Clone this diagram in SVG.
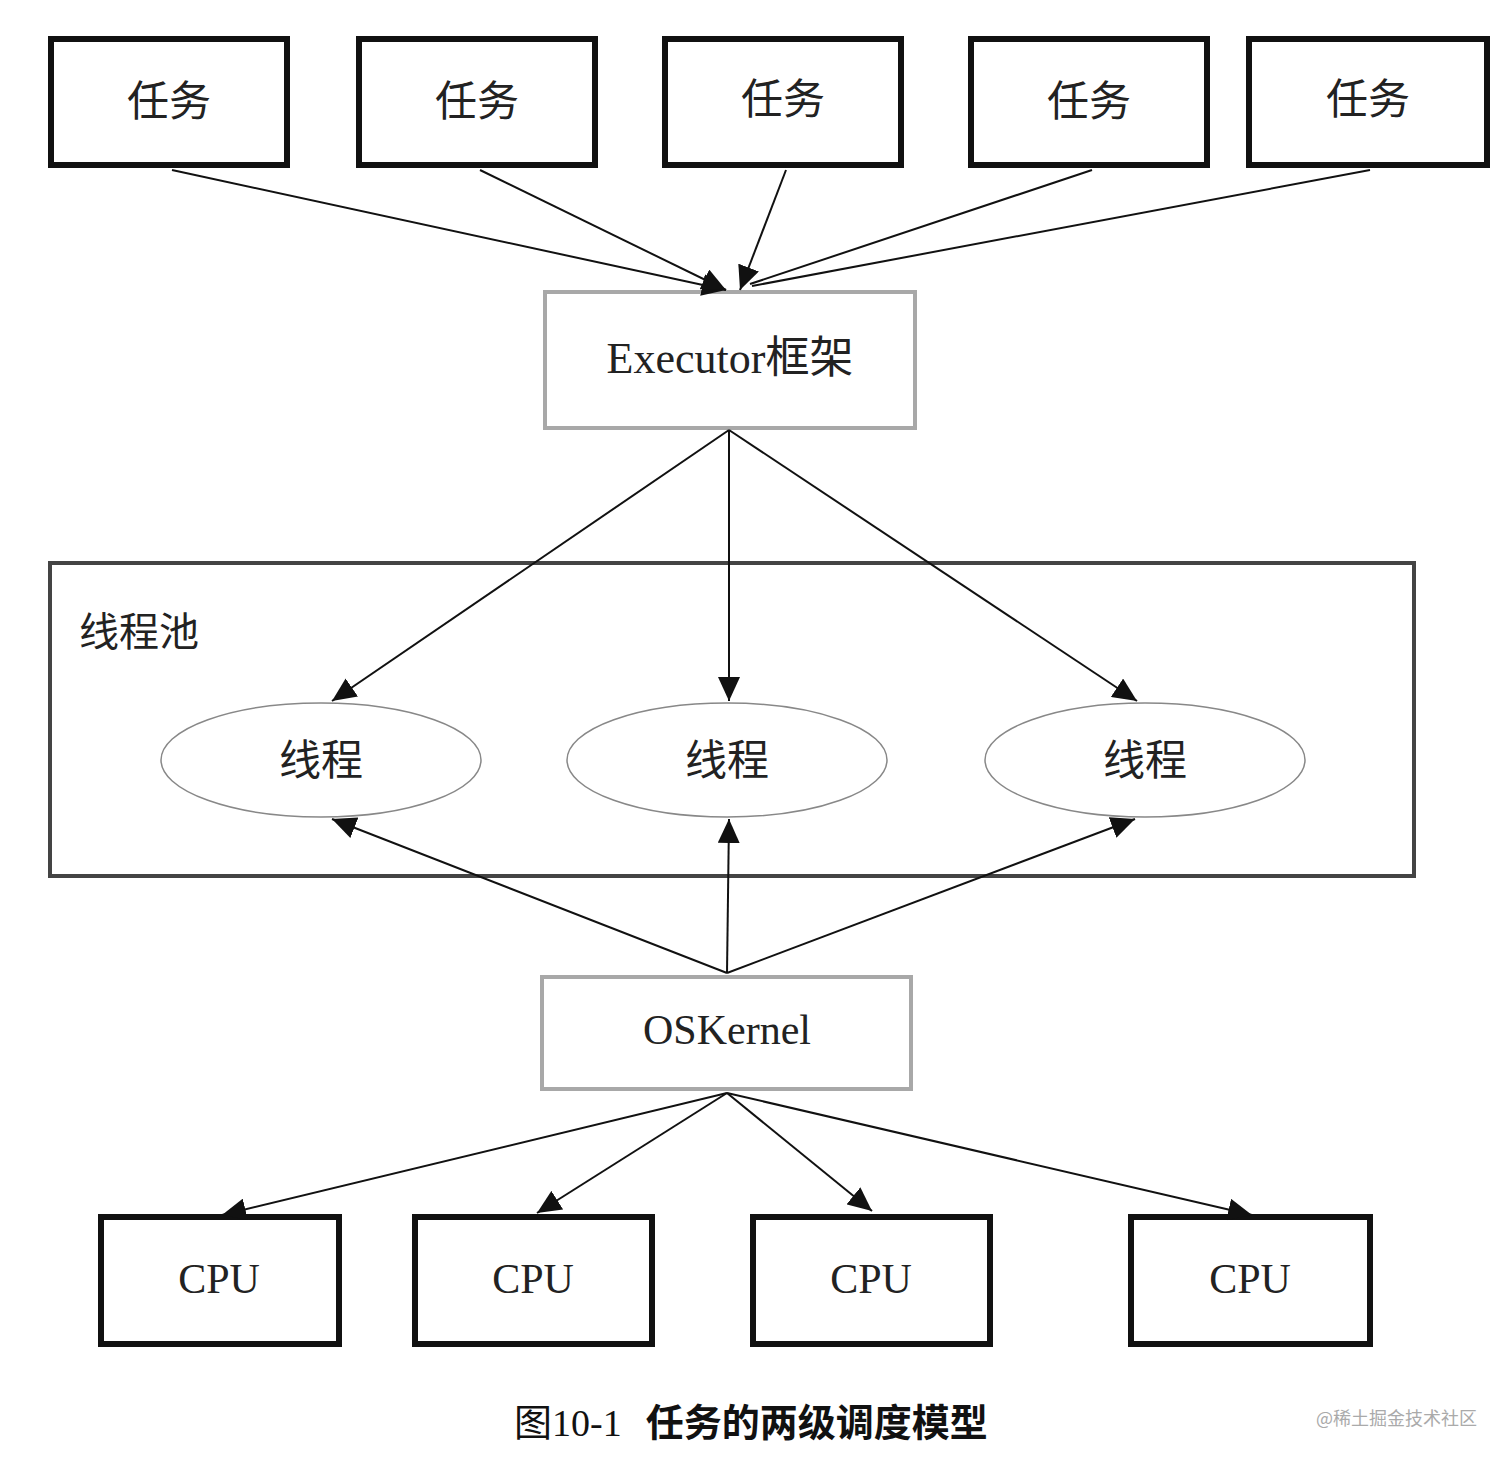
<svg xmlns="http://www.w3.org/2000/svg" width="1512" height="1464" viewBox="0 0 1512 1464">
<defs>
<style>
.box{fill:#fff;stroke:#111;stroke-width:6}
.gbox{fill:#fff;stroke:#a8a8a8;stroke-width:4}
.pool{fill:none;stroke:#444;stroke-width:4}
.ell{fill:#fff;stroke:#888;stroke-width:1.5}
.t{font-family:"Liberation Serif","Noto Sans CJK SC",serif;fill:#222;text-anchor:middle}
.cjk{font-family:"Noto Sans CJK SC","Liberation Serif",sans-serif;fill:#222}
.edge{stroke:#111;stroke-width:2;fill:none;marker-end:url(#ah)}
.plain{stroke:#111;stroke-width:2;fill:none}
</style>
<marker id="ah" markerUnits="userSpaceOnUse" markerWidth="26" markerHeight="22" refX="24" refY="11" orient="auto">
<path d="M0,0 L24,11 L0,22 Z" fill="#111"/>
</marker>
</defs>
<g id="task1"><rect class="box" x="51" y="39" width="236" height="126"/><text class="cjk" x="169" y="116" font-size="42" text-anchor="middle">任务</text></g>
<g id="task2"><rect class="box" x="359" y="39" width="236" height="126"/><text class="cjk" x="477" y="116" font-size="42" text-anchor="middle">任务</text></g>
<g id="task3"><rect class="box" x="665" y="39" width="236" height="126"/><text class="cjk" x="783" y="114" font-size="42" text-anchor="middle">任务</text></g>
<g id="task4"><rect class="box" x="971" y="39" width="236" height="126"/><text class="cjk" x="1089" y="116" font-size="42" text-anchor="middle">任务</text></g>
<g id="task5"><rect class="box" x="1249" y="39" width="238" height="126"/><text class="cjk" x="1368" y="114" font-size="42" text-anchor="middle">任务</text></g>
<g id="executor"><rect class="gbox" x="545" y="292" width="370" height="136"/><text class="t" x="730" y="373" font-size="44">Executor<tspan font-family="Noto Sans CJK SC,sans-serif">框架</tspan></text></g>
<g id="pool"><rect class="pool" x="50" y="563" width="1364" height="313"/><text class="cjk" x="79" y="646" font-size="40">线程池</text></g>
<g id="thread1"><ellipse class="ell" cx="321" cy="760" rx="160" ry="57"/><text class="cjk" x="321" y="775" font-size="42" text-anchor="middle">线程</text></g>
<g id="thread2"><ellipse class="ell" cx="727" cy="760" rx="160" ry="57"/><text class="cjk" x="727" y="775" font-size="42" text-anchor="middle">线程</text></g>
<g id="thread3"><ellipse class="ell" cx="1145" cy="760" rx="160" ry="57"/><text class="cjk" x="1145" y="775" font-size="42" text-anchor="middle">线程</text></g>
<g id="oskernel"><rect class="gbox" x="542" y="977" width="369" height="112"/><text class="t" x="727" y="1044" font-size="42">OSKernel</text></g>
<g id="cpu1"><rect class="box" x="101" y="1217" width="238" height="127"/><text class="t" x="219" y="1293" font-size="42">CPU</text></g>
<g id="cpu2"><rect class="box" x="415" y="1217" width="237" height="127"/><text class="t" x="533" y="1293" font-size="42">CPU</text></g>
<g id="cpu3"><rect class="box" x="753" y="1217" width="237" height="127"/><text class="t" x="871" y="1293" font-size="42">CPU</text></g>
<g id="cpu4"><rect class="box" x="1131" y="1217" width="239" height="127"/><text class="t" x="1250" y="1293" font-size="42">CPU</text></g>
<g id="connectors">
<line class="edge" x1="172" y1="170" x2="726" y2="290"/>
<line class="edge" x1="480" y1="170" x2="726" y2="290"/>
<line class="edge" x1="786" y1="170" x2="740" y2="290"/>
<line class="plain" x1="1092" y1="170" x2="750" y2="284"/>
<line class="plain" x1="1370" y1="170" x2="752" y2="286"/>
<line class="edge" x1="729" y1="430" x2="332" y2="701"/>
<line class="edge" x1="729" y1="430" x2="729" y2="701"/>
<line class="edge" x1="729" y1="430" x2="1137" y2="701"/>
<line class="edge" x1="727" y1="973" x2="332" y2="819"/>
<line class="edge" x1="727" y1="973" x2="729" y2="819"/>
<line class="edge" x1="727" y1="973" x2="1135" y2="819"/>
<line class="edge" x1="727" y1="1093" x2="222" y2="1215"/>
<line class="edge" x1="727" y1="1093" x2="537" y2="1213"/>
<line class="edge" x1="727" y1="1093" x2="872" y2="1211"/>
<line class="edge" x1="727" y1="1093" x2="1252" y2="1215"/>
</g>
<g id="caption">
<text x="514" y="1436" font-size="38" fill="#111" font-family="Liberation Serif,Noto Sans CJK SC,serif"><tspan font-family="Noto Sans CJK SC,sans-serif">图</tspan>10-1<tspan dx="24" font-family="Noto Sans CJK SC,sans-serif" font-weight="bold">任务的两级调度模型</tspan></text>
<text x="1316" y="1425" font-size="18" fill="#aaa" font-family="Noto Sans CJK SC,sans-serif">@稀土掘金技术社区</text>
</g>
</svg>
